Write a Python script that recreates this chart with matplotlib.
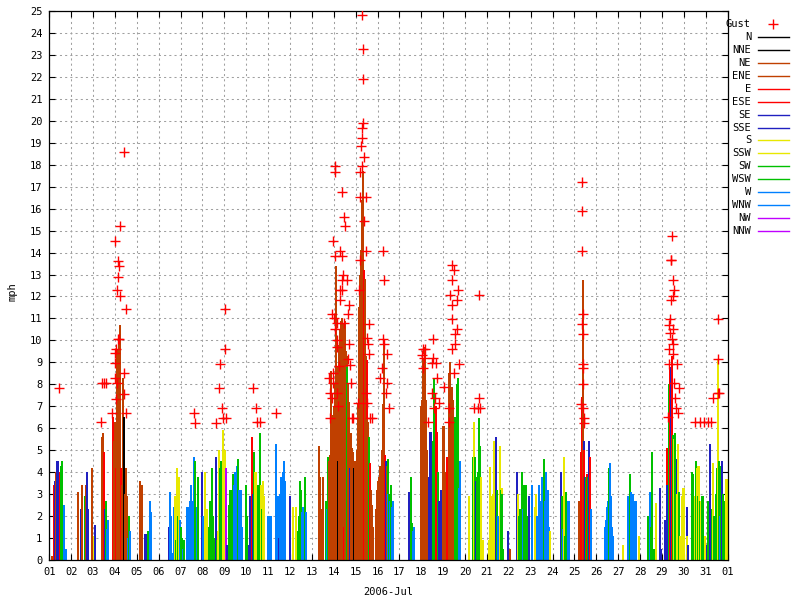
import matplotlib
matplotlib.use('Agg')
import matplotlib.pyplot as plt
from matplotlib.lines import Line2D

# ---------------- data: per day, (hour, direction, mph) ----------------
d01 = [(3,'NE',0.2),(5,'E',3.4),(6,'SE',3.6),(7,'NE',4.0),(8,'SE',4.5),(9,'SE',4.5),(10,'SE',3.2),(12,'E',4.0),(13,'SW',4.3),(14,'SW',4.5),(15,'SW',1.6),(16,'W',2.5),(18,'W',0.5)]
d02 = [(8,'NE',3.1),(11,'SE',2.3),(12,'NE',3.4),(15,'SW',2.9),(16,'NE',3.4),(17,'SE',4.0),(18,'SE',2.3),(23,'NE',4.2)]
d03 = [(1,'S',1.1),(2,'SE',1.6),(10,'NE',5.6),(11,'NE',5.8),(12,'E',4.9),(13,'SE',2.3),(14,'SW',2.7),(15,'W',1.4),(16,'W',1.8),(22,'E',6.5),(23,'NE',5.4)]
d04 = [(0,'NE',6.3),(1,'E',4.2),(2,'NE',9.6),(3,'NE',9.6),(4,'NE',10.2),(5,'NE',10.7),(6,'NE',9.7),(7,'E',4.2),(8,'NE',3.4),(9,'NE',8.3),(10,'N',6.5),(11,'NE',3.0),(12,'NE',4.2),(13,'NE',2.9),(14,'W',1.0),(15,'SW',2.0),(16,'W',1.3)]
d05 = [(4,'NE',3.6),(6,'NE',3.4),(9,'SE',1.2),(10,'SE',1.2),(12,'SW',1.3),(14,'W',2.7),(15,'W',2.7),(16,'W',2.2)]
d06 = [(11,'SE',1.5),(12,'W',3.1),(13,'W',2.0),(14,'W',2.0),(15,'W',0.3),(17,'W',2.4),(18,'S',2.9),(19,'SW',0.9),(20,'S',4.2),(21,'SW',2.0),(22,'S',3.8),(23,'W',1.8)]
d07 = [(1,'SW',1.5),(2,'SW',1.0),(3,'W',0.5),(4,'SW',0.9),(7,'W',2.4),(8,'W',1.8),(9,'W',2.4),(10,'W',2.7),(11,'W',3.4),(12,'W',2.0),(13,'W',2.7),(14,'W',2.4),(15,'W',4.7),(16,'SW',4.5),(17,'SW',2.4),(18,'W',2.4),(19,'SW',3.8),(23,'SE',4.0)]
d08 = [(0,'SE',3.1),(1,'W',2.0),(3,'S',4.0),(4,'S',2.3),(5,'S',2.3),(7,'SW',1.5),(8,'SW',2.7),(10,'SW',4.2),(11,'SW',3.8),(12,'SW',2.0),(13,'SW',1.0),(14,'SW',1.0),(15,'SE',4.7),(16,'SW',0.9),(17,'S',1.3),(18,'S',5.0),(19,'SW',4.2),(20,'SW',4.5),(21,'SW',2.5),(22,'S',3.0),(23,'S',5.9)]
d09 = [(1,'S',5.0),(2,'NW',4.2),(3,'SE',0.7),(5,'SW',2.5),(6,'SW',3.2),(7,'SW',1.3),(8,'SW',3.2),(9,'SW',3.9),(10,'SW',2.0),(11,'W',3.4),(12,'W',4.0),(13,'W',3.8),(14,'W',4.3),(15,'SW',4.6),(16,'W',3.2),(17,'W',3.2),(18,'W',3.2),(19,'W',1.5)]
d10 = [(0,'SW',3.4),(1,'SW',2.0),(3,'SE',0.7),(4,'SE',2.9),(6,'E',5.6),(7,'SE',3.0),(8,'SW',4.9),(9,'SW',4.9),(10,'S',4.0),(11,'S',4.0),(12,'S',3.2),(13,'SW',3.4),(14,'SW',3.0),(15,'SW',5.8),(16,'S',3.4),(17,'SW',2.3),(18,'S',3.6),(19,'S',2.9)]
d11 = [(0,'W',2.0),(1,'W',2.0),(3,'W',2.0),(9,'W',5.3),(10,'W',2.9),(11,'W',2.9),(12,'SE',1.0),(13,'W',3.0),(14,'W',3.8),(15,'W',3.5),(16,'W',4.0),(17,'W',4.5),(18,'W',3.6)]
d12 = [(0,'SE',2.9),(3,'S',2.4),(7,'S',2.4),(8,'S',1.2),(9,'SW',1.3),(10,'SW',2.0),(11,'SW',3.6),(12,'SW',3.2),(13,'W',2.2),(14,'W',2.4),(15,'W',2.0),(16,'W',1.5),(17,'SW',3.8),(18,'W',2.2)]
d13 = [(8,'NE',5.2),(9,'NE',3.8),(10,'NE',2.3),(12,'NE',3.8),(15,'SW',2.7),(17,'W',2.3),(18,'SW',4.7),(19,'NE',4.5),(20,'NE',4.8),(21,'NE',8.6),(22,'NE',5.3),(23,'NE',6.6)]
d14 = [(0,'NE',7.0),(1,'NE',8.0),(2,'NE',13.4),(3,'NE',8.2),(4,'NE',8.8),(5,'N',4.5),(6,'NE',9.8),(7,'NE',10.5),(8,'NE',10.9),(9,'NE',11.0),(10,'NE',10.8),(11,'E',1.5),(12,'NE',10.9),(13,'NE',9.5),(14,'NE',9.3),(15,'SW',8.8),(16,'NE',8.0),(17,'NE',7.2),(18,'SE',4.2),(19,'NE',5.8),(20,'NE',5.1),(21,'NE',4.9),(22,'N',4.2),(23,'NE',4.5)]
d15 = [(0,'NE',4.5),(1,'N',4.2),(2,'NE',5.0),(3,'NE',7.1),(4,'NE',11.5),(5,'NE',13.0),(6,'NE',14.1),(7,'NE',16.4),(8,'NE',17.7),(9,'E',13.2),(10,'NE',12.8),(11,'NE',9.3),(12,'E',9.1),(13,'NE',6.4),(14,'NE',6.3),(15,'SW',5.6),(16,'E',4.4),(17,'NE',3.2),(18,'NE',2.5),(19,'NE',1.5),(22,'NE',2.3),(23,'NE',3.2)]
d16 = [(0,'NE',3.0),(1,'NE',3.6),(2,'NE',3.8),(3,'NE',4.3),(4,'NE',3.8),(5,'NE',5.0),(6,'NE',7.1),(7,'NE',10.0),(8,'E',4.8),(9,'SE',4.5),(10,'NE',4.3),(11,'SW',4.6),(12,'W',3.0),(13,'SW',3.0),(14,'W',2.7),(15,'SW',3.4),(16,'W',2.4),(17,'W',2.7)]
d17 = [(10,'SE',3.1),(13,'SW',3.8),(14,'SW',1.7),(15,'W',1.3),(16,'W',1.5)]
d18 = [(0,'NE',7.0),(1,'NE',7.3),(2,'NE',9.2),(3,'NE',7.3),(4,'NE',9.7),(5,'NE',7.3),(6,'NE',5.0),(7,'NE',1.5),(8,'NE',1.5),(9,'SE',3.8),(10,'SE',5.85),(11,'SE',5.85),(12,'SE',4.5),(13,'SW',5.4),(14,'SW',8.3),(15,'SW',5.4),(16,'E',7.0),(17,'E',5.85),(18,'SW',4.0),(19,'SE',2.7),(20,'SE',1.3),(22,'SE',3.2)]
d19 = [(0,'NE',6.1),(1,'NE',6.1),(2,'NE',4.0),(3,'NE',2.3),(4,'E',4.7),(5,'E',4.7),(6,'NE',8.5),(7,'NE',9.0),(8,'NE',7.9),(9,'NE',7.9),(10,'NE',7.9),(11,'NE',7.3),(12,'NE',6.5),(13,'SW',6.5),(14,'SW',5.2),(15,'SW',8.0),(16,'SW',8.3),(17,'W',3.3),(18,'W',4.5),(19,'W',3.5)]
d20 = [(4,'S',2.9),(9,'SW',4.7),(10,'S',6.3),(11,'SW',4.7),(12,'SE',3.6),(13,'SW',3.8),(14,'SW',4.0),(15,'SW',6.45),(16,'SW',5.2),(17,'S',3.8),(18,'S',2.9),(20,'S',0.9)]
d21 = [(2,'S',0.9),(3,'S',4.25),(4,'S',2.9),(5,'S',2.5),(7,'S',3.0),(8,'S',5.4),(9,'S',4.0),(10,'SE',5.6),(11,'SW',3.2),(12,'W',2.0),(13,'W',2.0),(14,'S',5.2),(15,'SW',3.2),(16,'S',3.3),(17,'SW',3.0),(18,'SW',0.5),(23,'SE',1.3)]
d22 = [(1,'NE',0.5),(9,'SE',4.0),(10,'S',3.0),(11,'SW',2.0),(12,'SW',2.3),(13,'SW',2.3),(14,'SW',2.4),(15,'SW',4.0),(16,'W',2.3),(17,'SW',3.4),(18,'SW',3.2),(19,'SW',3.4),(20,'SW',2.0),(22,'SE',2.9)]
d23 = [(1,'W',3.4),(5,'S',2.4),(6,'S',3.0),(7,'W',2.0),(8,'W',1.5),(9,'W',3.4),(10,'W',2.4),(11,'W',2.7),(12,'W',3.8),(13,'W',2.4),(14,'W',3.0),(15,'SW',4.6),(16,'W',2.7),(17,'W',4.0),(18,'W',3.2),(19,'W',3.2),(20,'W',1.5),(21,'S',1.3)]
d24 = [(9,'SE',4.0),(10,'SW',2.9),(12,'W',1.4),(13,'S',4.7),(14,'SW',1.1),(15,'SW',3.1),(16,'SW',2.4),(17,'W',2.7),(18,'W',2.7)]
d25 = [(5,'NE',2.7),(7,'E',4.9),(8,'E',7.4),(9,'NE',12.75),(10,'SE',5.4),(11,'E',5.0),(12,'SE',3.8),(13,'SW',3.8),(14,'E',3.9),(15,'SW',3.8),(16,'SE',5.4),(17,'E',4.7),(18,'W',2.3)]
d26 = [(10,'W',1.5),(11,'W',1.8),(12,'W',2.4),(13,'W',2.7),(14,'SW',4.2),(15,'W',4.4),(16,'W',2.9),(17,'W',1.5),(18,'W',1.1)]
d27 = [(5,'S',0.7),(11,'W',2.9),(12,'W',2.1),(13,'SW',3.9),(14,'W',3.1),(15,'W',2.9),(16,'W',3.0),(17,'W',2.6),(18,'W',2.7),(19,'W',2.7),(23,'S',1.1)]
d28 = [(9,'SW',2.0),(11,'W',3.1),(12,'SW',1.5),(13,'SW',4.9),(15,'SW',0.5),(17,'S',2.6),(22,'SE',3.3),(23,'SE',0.5)]
d29 = [(3,'SE',1.8),(5,'E',5.1),(6,'SE',3.4),(7,'SE',3.4),(8,'SW',8.0),(9,'E',8.7),(10,'SE',8.8),(11,'E',9.3),(12,'SW',5.7),(13,'S',5.5),(14,'SW',5.8),(15,'SW',4.5),(16,'SE',4.6),(17,'S',3.0),(18,'S',5.3),(19,'SW',3.1),(20,'S',1.1),(22,'S',2.9),(23,'S',3.3)]
d30 = [(0,'S',3.3),(3,'SE',2.4),(4,'S',1.1),(5,'SE',0.7),(9,'SW',4.0),(10,'SW',3.9),(11,'SW',2.9),(12,'S',2.9),(13,'SW',4.5),(14,'S',4.2),(15,'S',4.3),(16,'SW',2.9),(17,'S',4.3),(18,'SW',2.7),(19,'S',2.7),(20,'SW',2.9),(21,'SW',2.9),(23,'S',1.1)]
d31 = [(1,'SE',0.7),(3,'SW',2.7),(5,'SE',5.3),(6,'SE',2.0),(7,'SW',2.3),(8,'S',4.4),(9,'SW',2.0),(10,'SW',2.0),(11,'SW',3.0),(12,'SW',4.2),(13,'S',9.1),(14,'S',5.1),(15,'SW',4.5),(16,'W',2.0),(17,'SW',4.3),(18,'SE',4.5),(19,'SW',3.0),(20,'SW',2.7),(21,'SW',2.7),(22,'S',3.7),(23,'S',3.7)]

days = [d01,d02,d03,d04,d05,d06,d07,d08,d09,d10,d11,d12,d13,d14,d15,d16,
        d17,d18,d19,d20,d21,d22,d23,d24,d25,d26,d27,d28,d29,d30,d31]

# gusts: day-of-month (fractional) and mph
gust_day = [1.44, 3.36, 3.41, 3.50, 3.59,
            3.88, 3.99, 4.00, 4.00, 4.05, 4.06, 4.11, 4.14, 4.19, 4.40, 4.41, 4.49, 4.49,
            4.00, 4.14, 4.19, 4.14, 4.09, 4.23, 4.23, 4.41,
            7.61, 7.66,
            8.62, 8.77, 8.82, 8.88, 8.95, 9.02, 9.08, 9.04,
            10.31, 10.45, 10.49, 10.63, 11.36,
            15.31, 15.35, 15.35, 15.35, 15.29, 15.31, 15.26, 15.40, 15.29, 14.07, 14.07, 15.20,
            14.39, 15.20, 15.46, 14.48, 15.40, 14.53, 13.98, 14.29, 15.46, 16.27, 14.07, 14.36, 15.20,
            14.44, 14.39, 14.59, 14.29, 14.39, 14.29, 14.71, 14.64, 13.92, 14.03, 14.14, 14.47,
            14.06, 14.14, 14.14, 14.68, 14.67, 14.74, 14.25, 13.98, 13.80, 14.78, 13.98, 13.83,
            14.14, 13.91, 14.18, 13.83, 14.85,
            15.60, 15.51, 15.58, 15.60, 15.47, 15.09, 15.53, 14.89, 15.66, 15.76, 15.14,
            16.31, 16.27, 16.31, 16.42, 16.22, 16.11, 16.42, 16.39, 16.54,
            18.55, 18.09, 18.17, 18.02, 18.13, 18.52, 18.67, 18.48, 18.09, 18.71, 19.05, 18.50,
            18.63, 18.81, 18.60, 18.32,
            19.42, 19.50, 19.39, 19.69, 19.33, 19.65, 19.39, 19.39, 19.65, 19.56, 19.55, 19.39,
            19.71, 19.50, 19.28, 19.28, 20.65, 20.65, 20.41, 20.61, 20.68,
            25.36, 25.36, 25.36, 25.41, 25.36, 25.38, 25.41, 25.41, 25.38, 25.29, 25.38, 25.44, 25.45,
            29.47, 29.40, 29.41, 29.49, 29.54, 29.52, 29.43, 29.37, 29.32, 29.52, 29.37, 29.45,
            29.52, 29.34, 29.49, 29.31, 29.67, 29.56, 29.79, 29.60, 29.64, 29.75, 29.29,
            30.51, 30.74, 30.94, 31.12, 31.24, 31.35, 31.55, 31.61, 31.54, 31.54]
gust_mph = [7.83, 6.30, 8.05, 8.05, 8.05,
            6.68, 8.29, 8.97, 9.43, 9.60, 7.33, 8.04, 10.05, 10.05, 8.53, 7.56, 6.68, 11.42,
            14.53, 13.60, 13.40, 12.90, 12.30, 12.00, 15.20, 18.60,
            6.68, 6.26,
            6.26, 7.82, 8.91, 6.90, 6.47, 9.60, 6.47, 11.42,
            7.84, 6.90, 6.30, 6.30, 6.70,
            24.83, 23.27, 21.90, 19.90, 19.67, 19.20, 18.83, 18.37, 17.92, 17.92, 17.66, 17.66,
            16.75, 16.55, 16.55, 15.64, 15.44, 15.19, 14.53, 14.08, 14.08, 14.08, 13.86, 13.86, 13.67,
            13.00, 12.75, 12.75, 12.30, 12.30, 11.85, 11.60, 11.20, 11.20, 11.00, 10.80, 10.80,
            10.50, 10.00, 9.70, 9.85, 9.15, 8.90, 8.84, 8.53, 8.28, 8.05, 8.05, 7.62,
            7.62, 7.37, 7.00, 6.48, 6.48,
            10.74, 10.10, 9.84, 9.40, 7.62, 7.17, 7.17, 6.48, 6.48, 6.48, 12.30,
            12.76, 10.07, 9.84, 9.38, 8.76, 8.28, 8.05, 7.62, 6.94,
            10.05, 9.60, 9.60, 9.34, 9.19, 9.19, 8.96, 8.96, 8.73, 8.28, 7.87, 7.59,
            7.37, 7.14, 6.91, 6.30,
            13.44, 13.21, 12.76, 12.30, 12.07, 11.85, 11.62, 10.96, 10.50, 10.28, 9.84, 9.60,
            8.93, 8.50, 6.91, 6.27, 12.07, 7.37, 6.91, 6.91, 6.91,
            17.20, 15.88, 14.08, 11.20, 10.75, 10.30, 8.93, 8.73, 8.00, 7.10, 6.94, 6.45, 6.26,
            14.76, 13.67, 13.67, 12.76, 12.30, 12.04, 11.84, 10.96, 10.70, 10.50, 10.33, 10.05,
            9.83, 9.60, 9.38, 8.91, 8.91, 8.05, 7.82, 7.37, 6.91, 6.68, 6.53,
            6.27, 6.27, 6.27, 6.27, 6.27, 7.37, 7.60, 7.60, 9.16, 10.96]

dir_names = ['N','NNE','NE','ENE','E','ESE','SE','SSE','S','SSW','SW','WSW','W','WNW','NW','NNW']
dir_colors = ['#000000','#000000','#c04000','#c04000','#ff0000','#ff0000','#2020c0','#2020c0',
              '#e8e800','#e8e800','#00c000','#00c000','#0080ff','#0080ff','#c000ff','#c000ff']
day_labels = ['%02d' % d for d in range(1, 32)] + ['01']
month_label = '2006-Jul'

# ---------------- plotting ----------------
FONT = 'DejaVu Sans Mono'
plt.rcParams['font.family'] = FONT
plt.rcParams['font.size'] = 7.5

fig = plt.figure(figsize=(8, 6), dpi=100)
W, H = 800.0, 600.0
L, R, T, B = 49.3, 727.6, 11.0, 560.0
ax = fig.add_axes([L / W, 1 - B / H, (R - L) / W, (B - T) / H])

cmap = dict(zip(dir_names, dir_colors))
ts, vs, cs = [], [], []
for i, dd in enumerate(days):
    for hr, dname, mph in dd:
        ts.append(i + 1 + hr / 24.0)
        vs.append(mph)
        cs.append(cmap[dname])
ax.vlines(ts, 0, vs, colors=cs, linewidth=1.1, antialiased=False, zorder=2)
ax.plot(gust_day, gust_mph, linestyle='none', marker='+', markersize=6.5,
        markeredgewidth=1.0, color='#ff0000', zorder=3)

ax.set_xlim(1, 32)
ax.set_ylim(0, 25)
ax.set_xticks(range(1, 33))
ax.set_xticklabels(day_labels)
ax.set_yticks(range(0, 26))
ax.tick_params(direction='in', length=4.3, width=0.8, top=True, right=True,
               labelsize=7.5, pad=5, colors='black')
ax.grid(True, color='#a0a0a0', linestyle=(0, (2, 3)), linewidth=0.75, zorder=0)
ax.set_axisbelow(True)
for s in ax.spines.values():
    s.set_linewidth(0.9)

fig.text(13 / W, 1 - 292 / H, 'mph', rotation=90, ha='center', va='center', fontsize=7.5)
fig.text(388 / W, 1 - 592 / H, month_label, ha='center', va='center', fontsize=7.5)

# legend (gnuplot style, right side)
labels = ['Gust'] + dir_names
for i, lab in enumerate(labels):
    y = 1 - (24 + 12.94 * i) / H
    fig.text(751 / W, y, lab, ha='right', va='center', fontsize=7.5)
    if i == 0:
        fig.add_artist(Line2D([773 / W], [y], marker='+', markersize=6.5,
                              markeredgewidth=1.0, color='#ff0000', linestyle='none'))
    else:
        fig.add_artist(Line2D([757.7 / W, 789 / W], [y, y], color=dir_colors[i - 1],
                              linewidth=1.0))

fig.savefig('out.png', dpi=100)
